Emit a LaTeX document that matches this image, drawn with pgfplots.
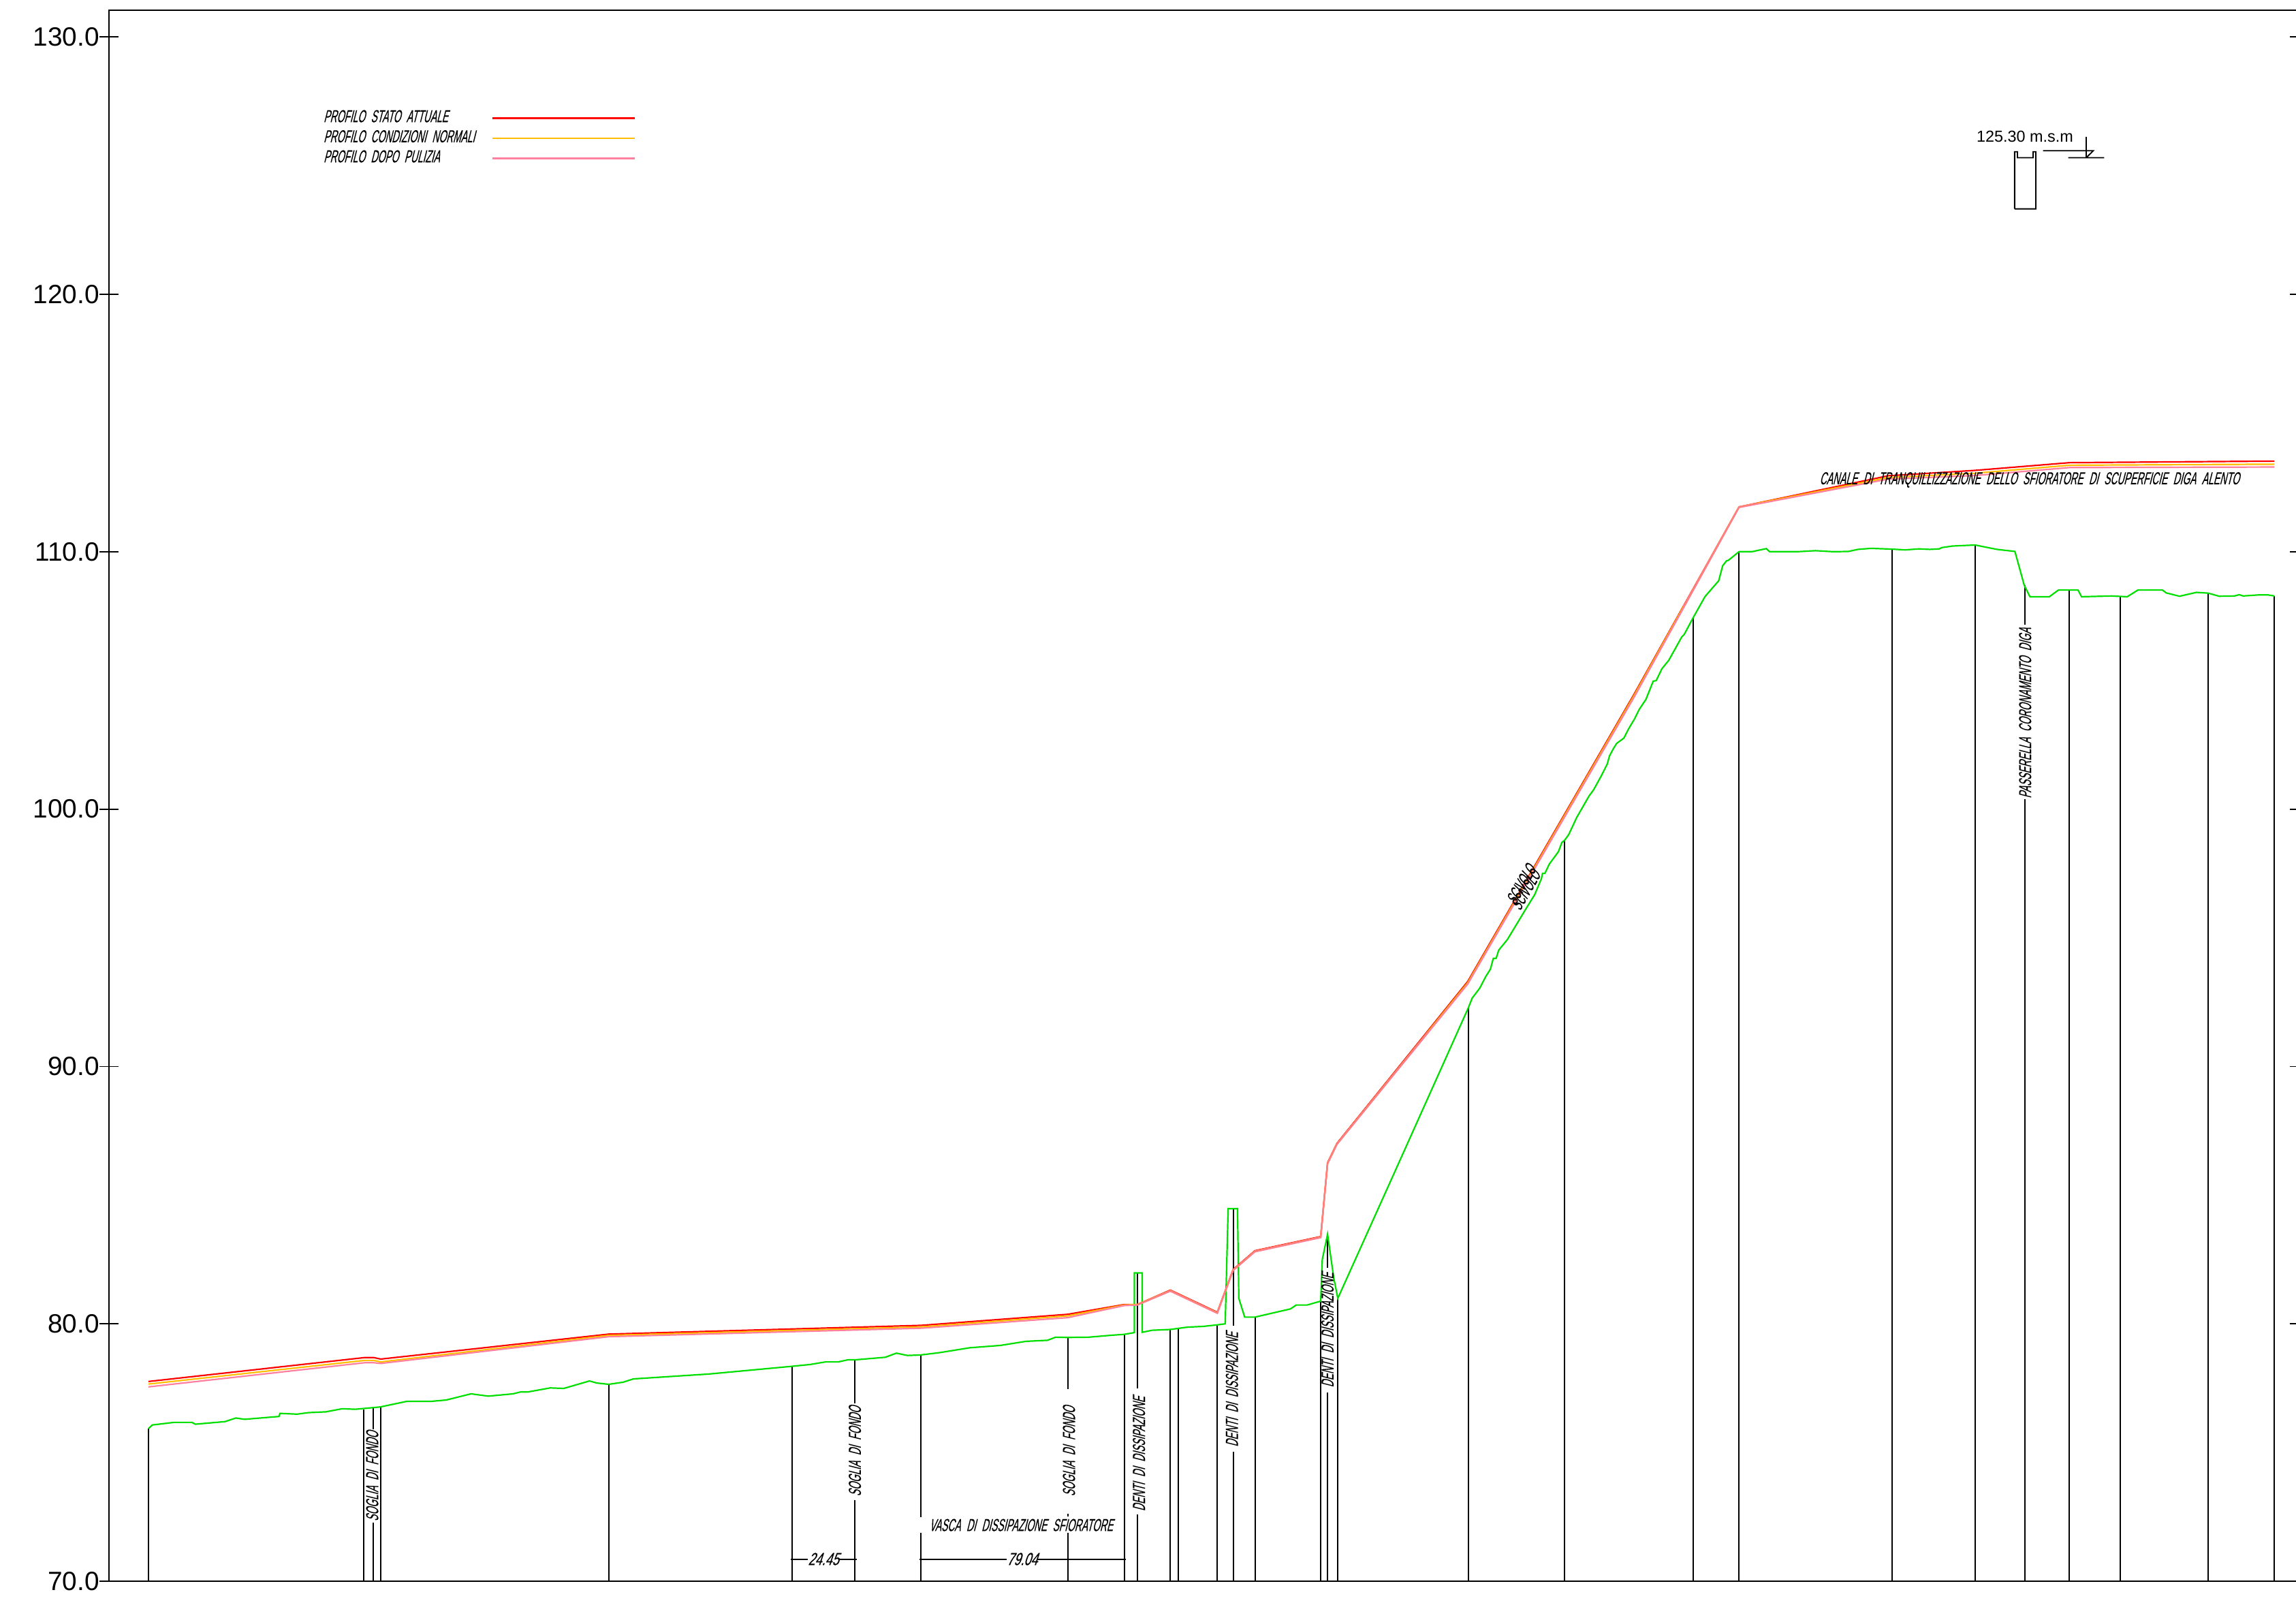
\documentclass[border=0pt]{standalone}
\usepackage{pgfplots}
\pgfplotsset{compat=1.18}
\usepackage{fontspec}
\setmainfont{Liberation Sans}
\newfontfamily\cadfont[FakeSlant=0.25,FakeStretch=0.54,WordSpace=2.2,FakeBold=0.25]{Liberation Sans}
\newcommand{\cad}{\fontsize{6.4}{7}\cadfont}

\definecolor{prored}{HTML}{FF0000}
\definecolor{proorange}{HTML}{FFBF00}
\definecolor{propink}{HTML}{FF7F9F}
\definecolor{prosalmon}{HTML}{FF8080}
\definecolor{bedgreen}{HTML}{00DF00}

\begin{document}
\begin{tikzpicture}
\path[use as bounding box] (-40.1pt,-8pt) rectangle ++(842.75pt,588.25pt);
\begin{axis}[
  scale only axis,
  width=803.9pt, height=576.5pt,
  xmin=74.6, xmax=1570.3,
  ymin=70, ymax=131.04,
  xtick=\empty,
  ytick={70,80,90,100,110,120,130},
  tick align=center,
  major tick length=7pt,
  tick style={black,line width=0.45pt},
  axis line style={line width=0.5pt},
  /pgf/number format/assume math mode=true,
  /pgf/number format/fixed,
  /pgf/number format/fixed zerofill,
  /pgf/number format/precision=1,
  yticklabel style={font=\fontsize{9.7}{11}\selectfont,inner sep=0pt,xshift=0pt},
  unbounded coords=jump,
  legend plot pos=right,
  legend cell align=left,
  legend image code/.code={\path[draw=none] (0pt,0pt) -- (58.7pt,0pt);\draw[#1] (6.5pt,0pt) -- (58.7pt,0pt);},
  legend style={draw=none,fill=none,font=\cad,inner sep=0pt,outer sep=0pt,
    nodes={inner sep=0pt,outer sep=0pt},
    at={(axis cs:221,127.16)},anchor=north west,row sep=1.4pt},
]

% station verticals, with the gaps left for the labels
\addplot[black,line width=0.5pt,forget plot] coordinates {
 (101.4,70) (101.4,75.93) (nan,nan)
 (248.6,70) (248.6,76.68) (nan,nan)
 (254.8,70) (254.8,72.27) (nan,nan) (254.8,75.91) (254.8,76.75) (nan,nan)
 (260,70) (260,76.77) (nan,nan)
 (415.7,70) (415.7,77.65) (nan,nan)
 (541,70) (541,78.35) (nan,nan)
 (583.8,70) (583.8,73.14) (nan,nan) (583.8,76.92) (583.8,78.60) (nan,nan)
 (628.7,70) (628.7,71.89) (nan,nan) (628.7,72.5) (628.7,78.79) (nan,nan)
 (729.2,70) (729.2,71.89) (nan,nan) (729.2,72.52) (729.2,72.62) (nan,nan) (729.2,77.47) (729.2,79.47) (nan,nan)
 (767.8,70) (767.8,79.59) (nan,nan)
 (776.7,70) (776.7,72.6) (nan,nan) (776.7,77.48) (776.7,81.98) (nan,nan)
 (799.2,70) (799.2,79.78) (nan,nan)
 (804.6,70) (804.6,79.83) (nan,nan)
 (831.4,70) (831.4,79.96) (nan,nan)
 (842.4,70) (842.4,75.03) (nan,nan) (842.4,79.92) (842.4,84.47) (nan,nan)
 (857,70) (857,80.26) (nan,nan)
 (901.9,70) (901.9,80.88) (nan,nan)
 (906.6,70) (906.6,77.34) (nan,nan) (906.6,82.18) (906.6,83.48) (nan,nan)
 (913.6,70) (913.6,80.99) (nan,nan)
 (1002.6,70) (1002.6,92.26) (nan,nan)
 (1068.5,70) (1068.5,98.79) (nan,nan)
 (1156.3,70) (1156.3,107.44) (nan,nan)
 (1187.6,70) (1187.6,110) (nan,nan)
 (1292,70) (1292,110.10) (nan,nan)
 (1348.8,70) (1348.8,110.26) (nan,nan)
 (1382.6,70) (1382.6,100.39) (nan,nan) (1382.6,107.17) (1382.6,108.69) (nan,nan)
 (1413.2,70) (1413.2,108.51) (nan,nan)
 (1447.8,70) (1447.8,108.28) (nan,nan)
 (1508,70) (1508,108.39) (nan,nan)
 (1553.2,70) (1553.2,108.28)
};

% dimension lines
\addplot[black,line width=0.5pt,forget plot] coordinates {
 (540,70.86) (551.5,70.86) (nan,nan) (573,70.86) (585,70.86) (nan,nan)
 (627.7,70.86) (687.6,70.86) (nan,nan) (708.4,70.86) (769,70.86)
};

% section sketch and level mark at 125.30
\addplot[black,line width=0.45pt,forget plot] coordinates {
 (1375.8,123.32) (1375.8,125.54) (1377.7,125.54) (1377.7,125.31) (1388.4,125.31)
 (1388.4,125.54) (1390.3,125.54) (1390.3,123.32) (1375.8,123.32) (nan,nan)
 (1395.2,125.58) (1429.5,125.58) (1424.7,125.31) (nan,nan)
 (1424.7,126.12) (1424.7,125.31) (nan,nan)
 (1412.4,125.31) (1437,125.31)
};

% riverbed
\addplot[bedgreen,line width=0.55pt,forget plot] coordinates {
 (101.4,75.93) (104,76.07) (118.7,76.17) (131.1,76.17) (133.4,76.10) (153.6,76.20)
 (161.1,76.34) (167,76.29) (190.5,76.40) (191.2,76.52) (202.9,76.49) (210.7,76.55)
 (222.5,76.58) (233.6,76.70) (242.7,76.68) (259.7,76.77) (278,76.99) (295,76.99)
 (304.7,77.04) (321.7,77.28) (333.4,77.19) (350.4,77.28) (355.3,77.35) (360.2,77.35)
 (375.8,77.51) (385,77.49) (402.6,77.78) (407.5,77.70) (415.7,77.65) (425.4,77.73)
 (432.6,77.86) (484.2,78.05) (541,78.35) (553.3,78.42) (563.7,78.52) (572.4,78.52)
 (578.9,78.60) (583.8,78.60) (604.6,78.70) (612.1,78.86) (619.8,78.77) (628.7,78.79)
 (641.6,78.88) (662.3,79.07) (683.1,79.16) (700.7,79.32) (715.3,79.36) (720.9,79.48)
 (729.2,79.47) (743.3,79.48) (759.9,79.56) (767.7,79.59) (774.7,79.66) (774.7,81.98)
 (780,81.98) (780,79.67) (786.8,79.75) (799.2,79.78) (810.8,79.87) (821.7,79.90)
 (831.4,79.96) (836.7,80.0) (838.7,84.47) (845.1,84.47) (846,80.99) (850,80.26)
 (857,80.26) (881.3,80.58) (885.2,80.73) (892.6,80.73) (901.9,80.88) (903,82.5)
 (906.6,83.48) (910.8,81.79) (913.6,80.99) (953.4,86.02) (984,89.9) (998.4,91.73)
 (1002.6,92.26) (1005.4,92.66) (1010.5,93.04) (1014.7,93.50) (1017.8,93.78)
 (1019.8,94.2) (1021.7,94.2) (1023.5,94.52) (1029.4,94.93) (1041.8,96.10) (1048,96.67)
 (1052.6,97.29) (1053.4,97.5) (1055,97.5) (1058,97.86) (1064.3,98.35) (1066.6,98.7)
 (1068.5,98.79) (1071.3,99.01) (1076.7,99.67) (1085.2,100.51) (1088.3,100.75)
 (1093.7,101.31) (1097.6,101.75) (1099.1,102.06) (1101.5,102.32) (1104,102.55)
 (1109,102.76) (1112,103.1) (1116.3,103.51) (1119.4,103.87) (1124,104.26) (1129,104.97)
 (1131,104.99) (1134.9,105.45) (1139.6,105.78) (1148.5,106.69) (1150.1,106.78)
 (1156.3,107.44) (1164.4,108.26) (1173.7,108.87) (1176.4,109.45) (1179.1,109.65)
 (1180.2,109.66) (1187.6,110.0) (1196.4,110.0) (1206.2,110.12) (1208.5,110) (1227.4,110)
 (1239.8,110.04) (1252,110) (1262.3,110.01) (1268.7,110.09) (1277.8,110.13) (1292,110.10)
 (1301,110.07) (1310.6,110.11) (1317.8,110.09) (1324.3,110.11) (1326.1,110.16)
 (1333.3,110.22) (1348.8,110.26) (1363.8,110.09) (1376,110.01) (1382.4,108.69)
 (1386.3,108.25) (1399.5,108.25) (1405.7,108.51) (1419.1,108.51) (1421.5,108.25)
 (1441.9,108.28) (1452.7,108.25) (1460,108.51) (1476.8,108.51) (1479.3,108.40)
 (1488.4,108.27) (1500,108.42) (1508,108.39) (1515.5,108.27) (1525.9,108.28)
 (1529.2,108.33) (1531.8,108.28) (1542.1,108.32) (1549,108.32) (1553.2,108.28)
};

% water profiles
\addplot[prored,line width=0.55pt] coordinates {
 (101.4,77.76) (249.2,78.69) (255.1,78.69) (260,78.63) (415.7,79.60) (629.1,79.94)
 (729.2,80.37) (767.8,80.75) (776.7,80.75) (799.2,81.31) (831.3,80.45) (842.1,82.11)
 (857,82.84) (901.9,83.39) (906.6,86.26) (913,87.01) (1002.3,93.3) (1116.3,104.5)
 (1187.6,111.74) (1289.4,112.95) (1348.8,113.16) (1413.4,113.46) (1553.2,113.52)
};
\addlegendentry{PROFILO STATO ATTUALE}
\addplot[proorange,line width=0.55pt] coordinates {
 (101.4,77.66) (249.2,78.58) (255.1,78.58) (260,78.52) (415.7,79.55) (629.1,79.88)
 (729.2,80.31) (767.8,80.73) (776.7,80.75) (799.2,81.29) (831.3,80.43) (842.1,82.09)
 (857,82.82) (901.9,83.37) (906.6,86.24) (913,86.99) (1002.3,93.25) (1116.3,104.45)
 (1187.6,111.74) (1289.4,112.88) (1348.8,113.05) (1413.4,113.36) (1553.2,113.40)
};
\addlegendentry{PROFILO CONDIZIONI NORMALI}
\addplot[propink,line width=0.55pt] coordinates {
 (101.4,77.55) (249.2,78.49) (255.1,78.49) (260,78.46) (415.7,79.50) (629.1,79.83)
 (729.2,80.24) (767.8,80.71) (776.7,80.73) (799.2,81.27) (831.3,80.41) (842.1,82.07)
 (857,82.80) (901.9,83.35) (906.6,86.22) (913,86.97) (1002.3,93.2) (1116.3,104.38)
 (1187.6,111.72) (1289.4,112.82) (1348.8,112.96) (1413.4,113.27) (1553.2,113.29)
};
\addlegendentry{PROFILO DOPO PULIZIA}
% stretch where the three profiles run together
\addplot[prosalmon,line width=0.55pt,forget plot] coordinates {
 (776.7,80.74) (799.2,81.29) (831.3,80.43) (842.1,82.09) (857,82.82) (901.9,83.37)
 (906.6,86.24) (913,86.99) (975,91.33) (nan,nan)
 (1150,107.9) (1187.6,111.74) (1200,111.88)
};

% labels
\node[font=\cad,rotate=90] at (axis cs:254.2,74.08) {SOGLIA DI FONDO};
\node[font=\cad,rotate=90] at (axis cs:583.8,75.05) {SOGLIA DI FONDO};
\node[font=\cad,rotate=90] at (axis cs:730,75.05) {SOGLIA DI FONDO};
\node[font=\cad,rotate=90] at (axis cs:777.8,74.95) {DENTI DI DISSIPAZIONE};
\node[font=\cad,rotate=90] at (axis cs:841.3,77.45) {DENTI DI DISSIPAZIONE};
\node[font=\cad,rotate=90] at (axis cs:906.6,79.76) {DENTI DI DISSIPAZIONE};
\node[font=\cad,rotate=90] at (axis cs:1383,103.73) {PASSERELLA CORONAMENTO DIGA};
\node[font=\cad] at (axis cs:697.3,72.18) {VASCA DI DISSIPAZIONE SFIORATORE};
\node[font=\cad] at (axis cs:562.3,70.86) {\scalebox{1.3}[1]{24.45}};
\node[font=\cad] at (axis cs:698,70.86) {\scalebox{1.3}[1]{79.04}};
\node[font=\cad] at (axis cs:1385.9,112.79) {CANALE DI TRANQUILLIZZAZIONE DELLO SFIORATORE DI SCUPERFICIE DIGA ALENTO};
\node[font=\cad,rotate=60] at (axis cs:1038.7,97.07) {SCIVOLO};
\node[font=\cad,rotate=60] at (axis cs:1041.8,96.85) {SCIVOLO};
\node[font=\fontsize{5.85}{7}\selectfont,anchor=west,inner sep=0pt] at (axis cs:1349.5,126.14) {125.30 m.s.m};
\end{axis}
\end{tikzpicture}
\end{document}
